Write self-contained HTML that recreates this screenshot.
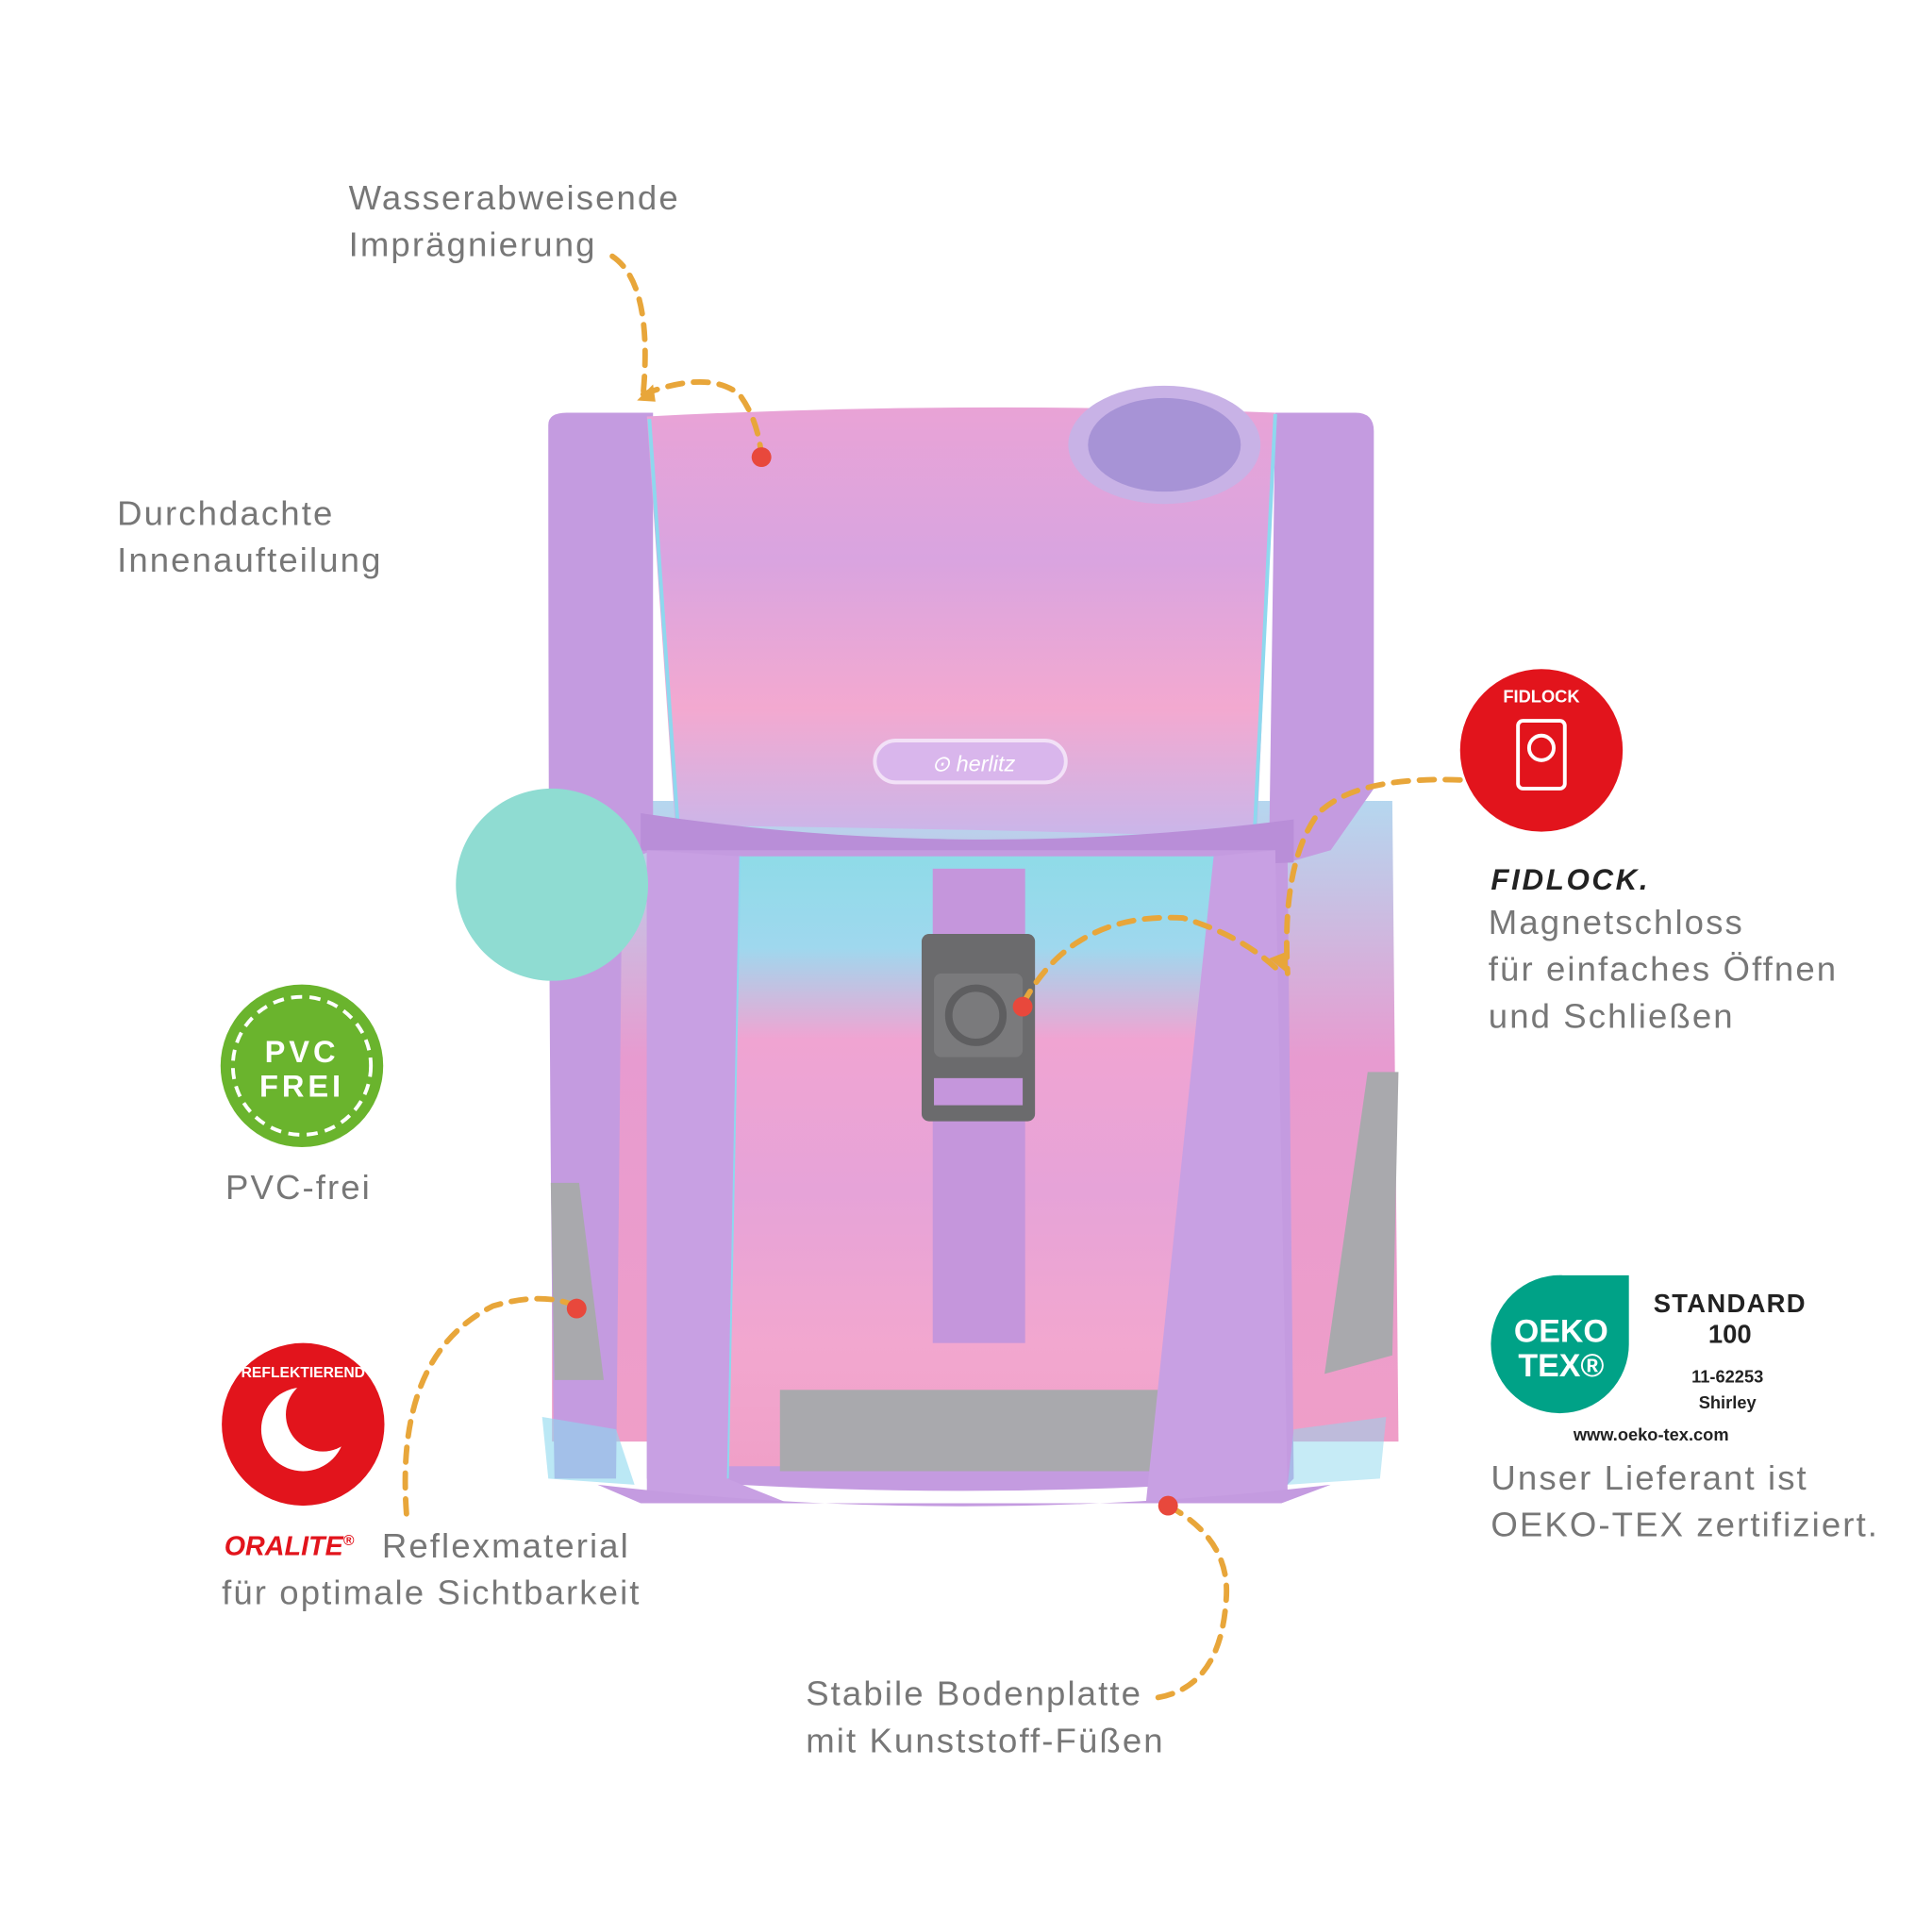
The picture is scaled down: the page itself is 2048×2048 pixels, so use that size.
<!DOCTYPE html>
<html><head><meta charset="utf-8"><style>
html,body{margin:0;padding:0;background:#fff}
svg{display:block}
text{font-family:"Liberation Sans",sans-serif}
.lbl{font-size:28px;fill:#777;font-weight:300;letter-spacing:1.6px}
</style></head><body>
<svg width="2048" height="2048" viewBox="0 0 1568 1568" xmlns="http://www.w3.org/2000/svg">
<defs>
<linearGradient id="flap" x1="0" y1="0" x2="0" y2="1">
<stop offset="0" stop-color="#e9a3d6"/><stop offset="0.35" stop-color="#d9a4e0"/><stop offset="0.7" stop-color="#f3a9d0"/><stop offset="1" stop-color="#c9b6ea"/></linearGradient>
<linearGradient id="front" x1="0" y1="0" x2="0" y2="1">
<stop offset="0" stop-color="#8fdbe8"/><stop offset="0.15" stop-color="#9fd8ee"/><stop offset="0.3" stop-color="#f0a4d2"/><stop offset="0.55" stop-color="#e6a3d8"/><stop offset="0.8" stop-color="#f2a7cf"/><stop offset="1" stop-color="#f0a0c8"/></linearGradient>
<linearGradient id="side" x1="0" y1="0" x2="0" y2="1">
<stop offset="0" stop-color="#b5d7ef"/><stop offset="0.4" stop-color="#e79bd0"/><stop offset="1" stop-color="#ef9ec8"/></linearGradient>
</defs>
<path d="M448 650 L1130 650 L1135 1170 L448 1170 Z" fill="url(#side)"/>
<path d="M445 345 Q445 335 460 335 L530 335 L530 690 L505 700 L500 1200 L450 1200 Q445 900 445 345 Z" fill="#c49be0"/>
<path d="M1035 335 L1100 335 Q1115 335 1115 350 L1115 640 L1080 690 L1045 700 L1050 1200 L1040 1210 L1030 690 Z" fill="#c49be0"/>
<path d="M525 338 Q780 325 1035 335 L1020 680 Q780 672 548 670 Z" fill="url(#flap)"/>
<path d="M527 340 L550 668 M1035 336 L1018 680" stroke="#8ed8ee" stroke-width="3" fill="none"/>
<path d="M520 660 Q780 700 1050 665 L1050 700 Q780 712 520 690 Z" fill="#b98ed8"/>
<path d="M525 690 L1035 690 L1040 1200 Q780 1220 525 1200 Z" fill="#c49be0"/>
<path d="M600 695 L985 695 L1000 1190 L590 1190 Z" fill="url(#front)"/>
<path d="M600 695 L590 1200 M985 695 L1000 1200" stroke="#8ed8ee" stroke-width="3"/>
<rect x="633" y="1128" width="318" height="66" fill="#a9a9ad"/>
<path d="M525 690 L600 695 L590 1200 L640 1220 L525 1215 Z" fill="#c8a0e3"/>
<path d="M985 695 L1035 690 L1045 1210 L930 1220 Z" fill="#c8a0e3"/>
<path d="M440 1150 L500 1160 L515 1205 L445 1200 Z" fill="#8ed8ee" opacity="0.6"/>
<path d="M1125 1150 L1050 1160 L1045 1205 L1120 1200 Z" fill="#8ed8ee" opacity="0.5"/>
<path d="M485 1205 L520 1220 L1040 1220 L1080 1205 Q780 1240 485 1205 Z" fill="#c49be0"/>
<path d="M447 960 L470 960 L490 1120 L450 1120 Z" fill="#a9a9ad"/>
<path d="M1110 870 L1135 870 L1130 1100 L1075 1115 Z" fill="#a9a9ad"/>
<rect x="757" y="705" width="75" height="385" fill="#c596dc"/>
<rect x="748" y="758" width="92" height="152" rx="6" fill="#6b6b6d"/>
<rect x="758" y="790" width="72" height="68" rx="6" fill="#7a7a7c"/>
<circle cx="792" cy="824" r="22" fill="none" stroke="#5e5e60" stroke-width="6"/>
<rect x="758" y="875" width="72" height="22" fill="#c596dc"/>
<rect x="710" y="601" width="155" height="34" rx="17" fill="#d9b6ec" stroke="#f2e1f7" stroke-width="3"/>
<text x="790" y="626" font-size="18" fill="#fff" text-anchor="middle" font-style="italic">⊙ herlitz</text>
<ellipse cx="945" cy="361" rx="78" ry="48" fill="#c8b2e6"/>
<ellipse cx="945" cy="361" rx="62" ry="38" fill="#a793d6"/>
<ellipse cx="448" cy="718" rx="78" ry="78" fill="#8fdcd2"/>
<g fill="none" stroke="#e8a63a" stroke-width="4.5" stroke-dasharray="12 9" stroke-linecap="round">
<path d="M497 208 Q530 230 522 320"/>
<path d="M522 320 Q575 300 600 320 Q615 340 618 370"/>
<path d="M1185 633 Q1100 630 1070 660 Q1040 700 1045 790"/>
<path d="M830 815 Q870 740 960 745 Q1010 760 1040 790"/>
<path d="M468 1060 Q440 1048 400 1060 Q320 1100 330 1230"/>
<path d="M948 1222 Q1000 1250 995 1300 Q990 1370 938 1378"/>
</g>
<path d="M517 325 L530 312 L532 326 Z M1045 790 L1030 778 L1045 772 Z" fill="#e8a63a"/>
<g fill="#e8483c"><circle cx="618" cy="371" r="8"/><circle cx="830" cy="817" r="8"/><circle cx="468" cy="1062" r="8"/><circle cx="948" cy="1222" r="8"/></g>
<text class="lbl" x="283" y="170">Wasserabweisende</text>
<text class="lbl" x="283" y="208">Imprägnierung</text>
<text class="lbl" x="95" y="426">Durchdachte</text>
<text class="lbl" x="95" y="464">Innenaufteilung</text>
<text class="lbl" x="183" y="973">PVC-frei</text>
<text class="lbl" x="310" y="1264">Reflexmaterial</text>
<text class="lbl" x="180" y="1302">für optimale Sichtbarkeit</text>
<text x="182" y="1262" font-size="22" font-weight="bold" fill="#e2141c" font-style="italic">ORALITE<tspan font-size="12" dy="-8">®</tspan></text>
<text class="lbl" x="654" y="1384">Stabile Bodenplatte</text>
<text class="lbl" x="654" y="1422">mit Kunststoff-Füßen</text>
<text x="1210" y="722" font-size="24" font-weight="bold" font-style="italic" fill="#222" letter-spacing="2">FIDLOCK.</text>
<text class="lbl" x="1208" y="758">Magnetschloss</text>
<text class="lbl" x="1208" y="796">für einfaches Öffnen</text>
<text class="lbl" x="1208" y="834">und Schließen</text>
<text class="lbl" x="1210" y="1209">Unser Lieferant ist</text>
<text class="lbl" x="1210" y="1247">OEKO-TEX zertifiziert.</text>
<circle cx="245" cy="865" r="66" fill="#6ab42d"/>
<circle cx="245" cy="865" r="56" fill="none" stroke="#fff" stroke-width="3" stroke-dasharray="9 6"/>
<text x="245" y="862" font-size="25" font-weight="bold" fill="#fff" text-anchor="middle" letter-spacing="3">PVC</text>
<text x="245" y="890" font-size="25" font-weight="bold" fill="#fff" text-anchor="middle" letter-spacing="3">FREI</text>
<circle cx="246" cy="1156" r="66" fill="#e2141c"/>
<circle cx="246" cy="1160" r="34" fill="#fff"/>
<circle cx="262" cy="1148" r="30" fill="#e2141c"/>
<text x="246" y="1118" font-size="12" font-weight="bold" fill="#fff" text-anchor="middle">REFLEKTIEREND</text>
<circle cx="1251" cy="609" r="66" fill="#e2141c"/>
<rect x="1232" y="585" width="38" height="55" rx="4" fill="none" stroke="#fff" stroke-width="3"/>
<circle cx="1251" cy="607" r="10" fill="none" stroke="#fff" stroke-width="3"/>
<text x="1251" y="570" font-size="14" font-weight="bold" fill="#fff" text-anchor="middle">FIDLOCK</text>
<path d="M1268 1035 L1322 1035 L1322 1090 A56 56 0 1 1 1268 1035 Z" fill="#00a287"/>
<path d="M1268 1035 A56 56 0 0 0 1212 1090" fill="#00a287"/>
<text x="1267" y="1089" font-size="26" font-weight="bold" fill="#fff" text-anchor="middle">OEKO</text>
<text x="1267" y="1117" font-size="26" font-weight="bold" fill="#fff" text-anchor="middle">TEX®</text>
<text x="1404" y="1065" font-size="21" font-weight="bold" fill="#222" text-anchor="middle" letter-spacing="1">STANDARD</text>
<text x="1404" y="1090" font-size="21" font-weight="bold" fill="#222" text-anchor="middle">100</text>
<text x="1402" y="1122" font-size="14" font-weight="bold" fill="#222" text-anchor="middle">11-62253</text>
<text x="1402" y="1143" font-size="14" font-weight="bold" fill="#222" text-anchor="middle">Shirley</text>
<text x="1340" y="1169" font-size="14" font-weight="bold" fill="#222" text-anchor="middle">www.oeko-tex.com</text>
</svg>
</body></html>
